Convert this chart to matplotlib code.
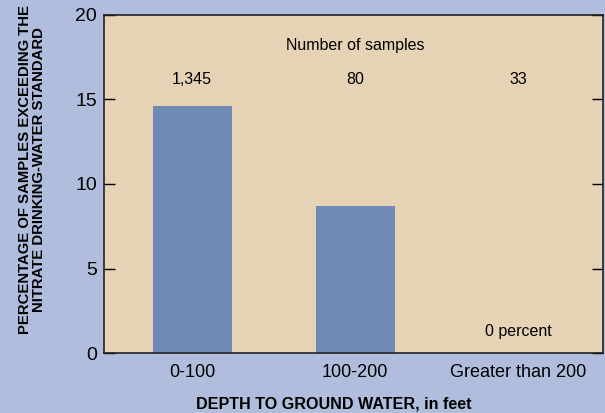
import matplotlib.pyplot as plt

plt.rcParams['font.family'] = ['Liberation Sans', 'DejaVu Sans']

# données
categories = ['0-100', '100-200', 'Greater than 200']
pct_exceed = [14.6, 8.7, 0.0]
n_samples = ['1,345', '80', '33']

bg = '#b0bddc'
fig = plt.figure(figsize=(6.05, 4.13), dpi=100, facecolor=bg)
ax = fig.add_axes([104/605, 1-353/413, 499/605, 338/413])
ax.set_facecolor('#e6d3b6')

x = range(len(categories))
ax.bar(x, pct_exceed, width=0.485, color='#7189b5', zorder=2)

ax.set_xlim(-0.54, 2.52)
ax.set_ylim(0, 20)
ax.set_yticks([0, 5, 10, 15, 20])
ax.set_xticks(list(x))
ax.set_xticklabels(categories)
ax.tick_params(axis='y', direction='in', length=8, width=1, labelsize=14,
               right=True, pad=5)
ax.tick_params(axis='x', length=0, labelsize=13, pad=8)
for s in ax.spines.values():
    s.set_linewidth(1.2)
    s.set_color('#222222')

ax.text(1, 18.2, 'Number of samples', ha='center', va='center', fontsize=11.5)
for i, n in enumerate(n_samples):
    ax.text(i, 16.2, n, ha='center', va='center', fontsize=11.5)
ax.text(2, 1.3, '0 percent', ha='center', va='center', fontsize=11.5)

fig.text(334/605, 1-404/413, 'DEPTH TO GROUND WATER, in feet', fontsize=11.6,
         fontweight='bold', ha='center', va='center')
fig.text(32/605, 1-170/413,
         'PERCENTAGE OF SAMPLES EXCEEDING THE\nNITRATE DRINKING-WATER STANDARD',
         rotation=90, ha='center', va='center', fontsize=10.7,
         fontweight='bold', linespacing=1.0)

fig.savefig('out.png', dpi=100, facecolor=bg)
